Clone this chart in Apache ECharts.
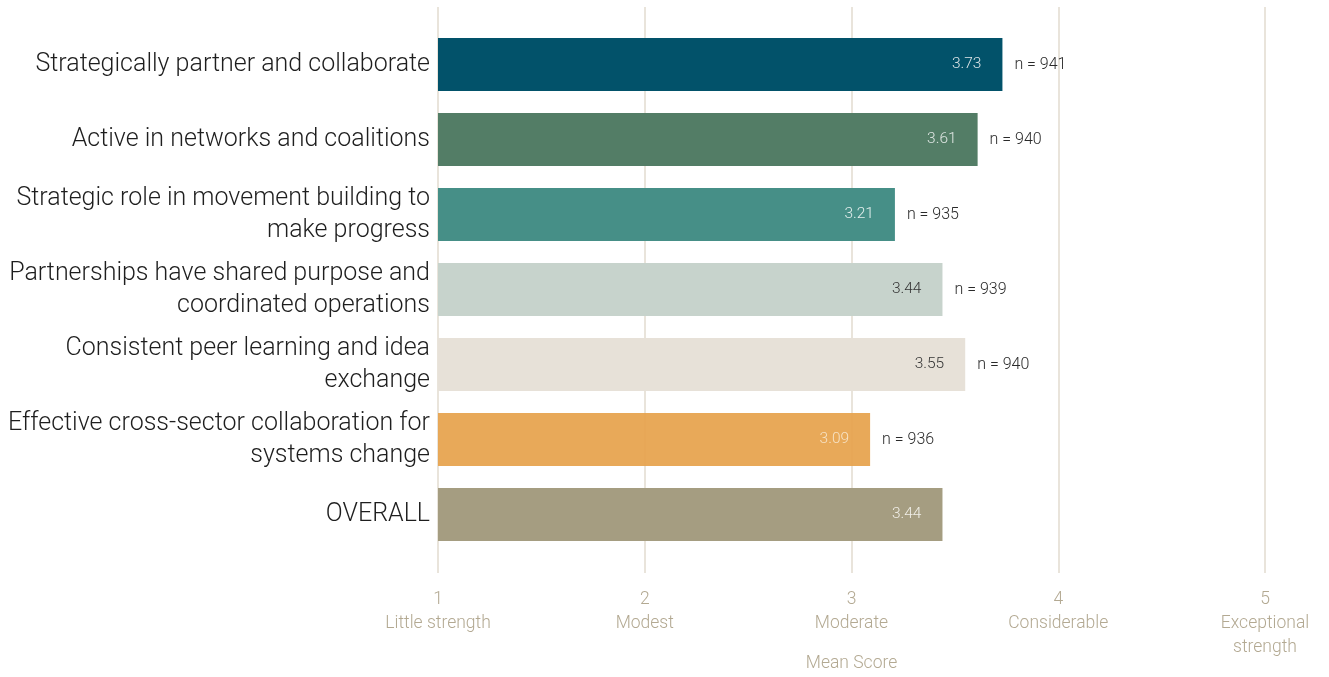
<!DOCTYPE html>
<html>
<head>
<meta charset="utf-8">
<script src="https://cdn.jsdelivr.net/npm/echarts@6/dist/echarts.min.js"></script>
<style>
  html, body { margin: 0; padding: 0; background: #fff; }
  #chart { width: 1329px; height: 677px; }
</style>
</head>
<body>
<div id="chart"></div>
<script>
// Capacity items, top to bottom
const categories = [
  'Strategically partner and collaborate',
  'Active in networks and coalitions',
  'Strategic role in movement building to\nmake progress',
  'Partnerships have shared purpose and\ncoordinated operations',
  'Consistent peer learning and idea\nexchange',
  'Effective cross-sector collaboration for\nsystems change',
  'OVERALL'
];
const meanScores = [3.73, 3.61, 3.21, 3.44, 3.55, 3.09, 3.44];
const respondents = [941, 940, 935, 939, 940, 936, null];
const barColors = ['#02526a', '#537d66', '#468f87', '#c7d3cc', '#e7e1d8', '#e6a24c', '#a59d81'];
const valueLabelColors = ['#dfe6e8', '#dfe6e3', '#e3efed', '#333333', '#333333', '#f8e6cc', '#f1efe8'];
const scaleTicks = [1, 2, 3, 4, 5];
const scaleNames = ['Little strength', 'Modest', 'Moderate', 'Considerable', 'Exceptional\nstrength'];

const FONT = 'Roboto, "Helvetica Neue", Lato, sans-serif';
const TAN = '#b3a992';

const chart = echarts.init(document.getElementById('chart'), null, { renderer: 'canvas' });

chart.setOption({
  animation: false,
  backgroundColor: '#ffffff',
  textStyle: { fontFamily: FONT },
  grid: [
    { left: 438, right: 64, top: 27, bottom: 125, outerBoundsMode: 'none', containLabel: false },  // bars
    { left: 438, right: 64, top: 7, bottom: 104, outerBoundsMode: 'none', containLabel: false }   // scale + gridlines
  ],
  xAxis: [
    { gridIndex: 0, type: 'value', min: 1, max: 5, interval: 1, show: false },
    {
      gridIndex: 1, type: 'value', min: 1, max: 5, interval: 1,
      axisLine: { show: false }, axisTick: { show: false },
      splitLine: { show: true, lineStyle: { color: '#e9e4db', width: 2 } },
      axisLabel: {
        margin: 15,
        color: TAN,
        fontSize: 17.5,
        fontWeight: 300,
        lineHeight: 24,
        align: 'center',
        formatter: v => {
          const i = scaleTicks.indexOf(v);
          return i < 0 ? '' : v + '\n' + scaleNames[i];
        }
      },
      name: 'Mean Score',
      nameLocation: 'middle',
      nameGap: 82,
      nameMoveOverlap: false,
      nameTextStyle: { color: TAN, fontSize: 17.5, fontWeight: 300 }
    }
  ],
  yAxis: [
    {
      gridIndex: 0, type: 'category', data: categories, inverse: true,
      axisLine: { show: false }, axisTick: { show: false }, splitLine: { show: false },
      axisLabel: {
        margin: 8, color: '#1e1e1e', fontSize: 25, fontWeight: 300,
        lineHeight: 32, align: 'right'
      }
    },
    { gridIndex: 1, type: 'value', show: false, min: 0, max: 1 }
  ],
  series: [
    {
      type: 'bar',
      xAxisIndex: 0, yAxisIndex: 0,
      barWidth: 53,
      z: 3,
      data: meanScores.map((v, i) => ({
        value: v,
        itemStyle: { color: barColors[i], opacity: i === 5 ? 0.93 : 1 },
        label: { color: valueLabelColors[i] }
      })),
      label: {
        show: true,
        position: 'insideRight',
        distance: 21,
        fontSize: 15.5,
        fontWeight: 300,
        formatter: p => p.value.toFixed(2)
      }
    },
    {
      // invisible twin used to place the respondent counts
      type: 'bar',
      xAxisIndex: 0, yAxisIndex: 0,
      barWidth: 53,
      barGap: '-100%',
      z: 2,
      itemStyle: { color: 'rgba(0,0,0,0)' },
      silent: true,
      data: meanScores,
      label: {
        show: true,
        position: 'right',
        distance: 12,
        fontSize: 16,
        fontWeight: 300,
        color: '#2a2a2a',
        formatter: p => respondents[p.dataIndex] == null ? '' : 'n = ' + respondents[p.dataIndex]
      }
    }
  ]
});
</script>
</body>
</html>
